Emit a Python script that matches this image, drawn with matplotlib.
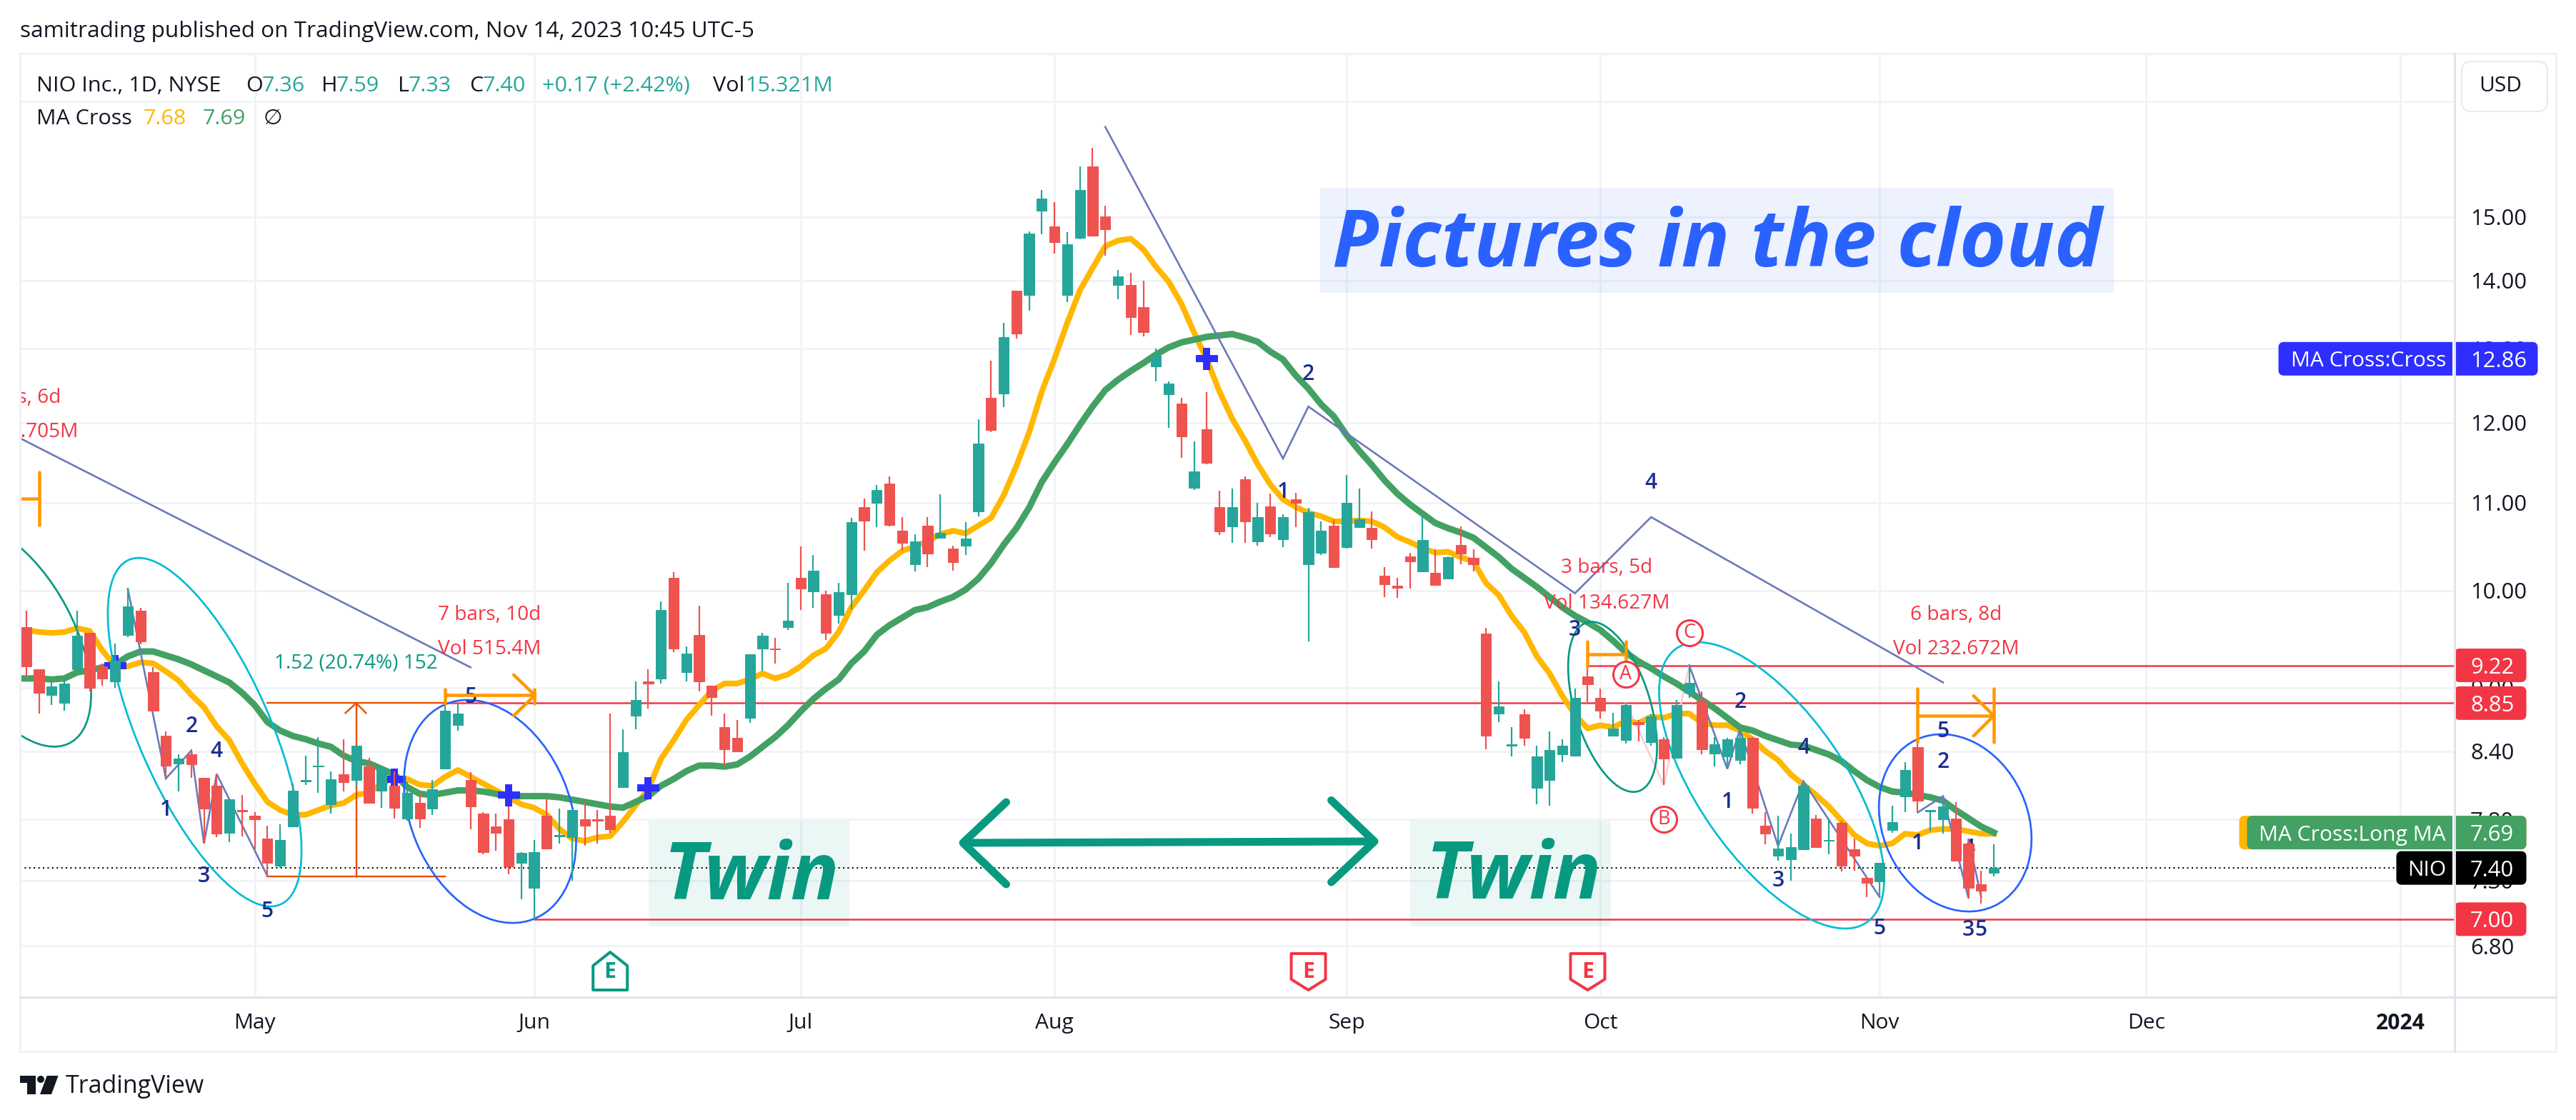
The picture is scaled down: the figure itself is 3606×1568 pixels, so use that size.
"""NIO daily candles with MA Cross and hand drawn wave annotations (TradingView look)."""
import numpy as np
import matplotlib
matplotlib.use("Agg")
import matplotlib.pyplot as plt
from matplotlib.patches import Ellipse, FancyBboxPatch, Polygon, Rectangle

plt.rcParams["font.family"] = ["Open Sans", "DejaVu Sans"]

W, H = 3606, 1568
UP, DOWN = "#26a69a", "#ef5350"
RED, TEAL, BLUE, NAVY = "#f23645", "#089981", "#2962ff", "#1a2d8f"
ORANGE, WAVE, INK = "#ff9800", "#6b78bb", "#131722"
YELLOW, GREEN, CROSS = "#ffb700", "#43a163", "#2e2eff"

# bar numbers count trading days from May 1 2023
first_bar = -18
opens = [9.61, 9.18, 8.93, 8.85, 9.18, 9.55, 9.21, 9.06, 9.53, 9.78,
         9.15, 8.54, 8.29, 8.37, 8.16, 8.09, 7.69, 7.88, 7.83, 7.64,
         7.42, 7.74, 8.13, 8.26, 7.93, 8.19, 8.14, 8.26, 8.05, 8.09,
         7.81, 7.94, 7.89, 8.24, 8.64, 8.14, 7.85, 7.74, 7.80, 7.44,
         7.24, 7.83, 7.66, 7.65, 7.80, 7.80, 7.83, 8.08, 8.73, 9.06,
         9.09, 10.14, 9.15, 9.53, 9.02, 8.62, 8.52, 8.71, 9.39, 9.39,
         9.61, 10.14, 9.99, 9.96, 9.74, 9.96, 10.95, 11.00, 11.23, 10.67,
         10.29, 10.73, 10.59, 10.47, 10.50, 10.90, 12.33, 12.38, 13.85, 13.78,
         15.10, 14.85, 13.78, 14.66, 15.85, 15.01, 13.93, 13.93, 13.60, 12.75,
         12.37, 12.25, 11.18, 11.91, 10.95, 10.72, 11.28, 10.55, 10.96, 10.57,
         11.04, 10.29, 10.42, 10.73, 10.48, 10.71, 10.70, 10.16, 10.05, 10.38,
         10.21, 10.19, 10.13, 10.51, 10.36, 9.54, 8.75, 8.45, 8.74, 8.07,
         8.14, 8.37, 8.36, 9.11, 8.90, 8.54, 8.50, 8.67, 8.48, 8.51,
         8.34, 8.95, 8.87, 8.38, 8.35, 8.32, 8.52, 7.75, 7.50, 7.47,
         7.55, 7.81, 7.62, 7.77, 7.55, 7.32, 7.29, 7.71, 8.00, 8.44,
         7.87, 7.80, 7.81, 7.60, 7.27, 7.36]
highs = [9.78, 9.18, 9.06, 9.06, 9.78, 9.55, 9.24, 9.44, 10.02, 9.81,
         9.20, 8.58, 8.37, 8.40, 8.16, 8.19, 7.97, 8.01, 7.86, 7.75,
         7.76, 8.11, 8.36, 8.53, 8.22, 8.51, 8.45, 8.34, 8.27, 8.22,
         8.12, 8.02, 8.14, 8.85, 8.84, 8.21, 7.86, 7.85, 7.91, 7.53,
         7.63, 7.98, 7.89, 7.89, 7.96, 7.88, 8.75, 8.60, 9.06, 9.18,
         9.88, 10.20, 9.41, 9.84, 9.02, 8.75, 8.69, 9.33, 9.55, 9.50,
         10.08, 10.49, 10.39, 10.00, 10.08, 10.82, 11.05, 11.21, 11.32, 10.83,
         10.63, 10.83, 11.10, 10.50, 10.77, 12.04, 12.83, 13.37, 13.85, 14.77,
         15.45, 15.24, 14.76, 15.85, 16.17, 15.18, 14.16, 14.12, 14.00, 13.00,
         12.55, 12.33, 11.76, 12.40, 11.14, 11.17, 11.32, 11.00, 11.11, 10.86,
         11.12, 10.94, 10.78, 10.80, 11.34, 11.17, 10.90, 10.26, 10.14, 10.42,
         10.85, 10.46, 10.38, 10.72, 10.46, 9.60, 9.06, 8.62, 8.79, 8.45,
         8.58, 8.51, 8.99, 9.22, 8.99, 8.76, 8.85, 8.69, 8.74, 8.53,
         8.88, 9.22, 8.96, 8.53, 8.52, 8.60, 8.53, 7.86, 7.83, 7.68,
         8.13, 7.84, 7.80, 7.79, 7.64, 7.32, 7.44, 7.92, 8.30, 8.50,
         7.88, 8.00, 7.95, 7.64, 7.38, 7.59]
lows = [9.11, 8.75, 8.83, 8.78, 9.18, 8.96, 9.02, 9.00, 9.51, 9.43,
        8.78, 8.16, 8.04, 8.16, 7.60, 7.65, 7.61, 7.66, 7.55, 7.33,
        7.40, 7.74, 8.10, 8.03, 7.85, 8.04, 8.09, 7.94, 7.90, 7.81,
        7.79, 7.73, 7.84, 8.24, 8.59, 7.72, 7.51, 7.54, 7.35, 7.15,
        7.00, 7.56, 7.60, 7.30, 7.58, 7.60, 7.69, 8.07, 8.60, 8.80,
        9.04, 9.35, 9.06, 8.96, 8.73, 8.27, 8.40, 8.66, 9.17, 9.24,
        9.58, 9.79, 9.81, 9.48, 9.65, 9.80, 10.44, 10.71, 10.72, 10.45,
        10.21, 10.26, 10.59, 10.22, 10.39, 10.84, 11.88, 12.20, 13.15, 13.55,
        14.72, 14.42, 13.67, 14.64, 14.69, 14.38, 13.72, 13.20, 13.18, 12.55,
        11.93, 11.55, 11.15, 11.47, 10.62, 10.53, 10.53, 10.50, 10.60, 10.48,
        10.71, 9.46, 10.39, 10.26, 10.47, 10.71, 10.47, 9.93, 9.92, 10.02,
        10.20, 10.06, 10.13, 10.29, 10.21, 8.42, 8.67, 8.35, 8.45, 7.93,
        7.92, 8.30, 8.35, 8.86, 8.70, 8.54, 8.47, 8.49, 8.45, 8.10,
        8.34, 8.90, 8.37, 8.26, 8.24, 8.28, 7.85, 7.59, 7.46, 7.30,
        7.55, 7.57, 7.51, 7.37, 7.38, 7.17, 7.17, 7.69, 7.86, 7.86,
        7.70, 7.68, 7.46, 7.16, 7.12, 7.33]
closes = [9.21, 8.95, 9.01, 9.04, 9.52, 9.00, 9.09, 9.27, 9.83, 9.46,
          8.78, 8.27, 8.33, 8.28, 7.89, 7.68, 7.97, 7.87, 7.80, 7.44,
          7.63, 8.05, 8.14, 8.27, 8.15, 8.12, 8.45, 7.94, 8.24, 7.90,
          8.03, 7.81, 8.06, 8.78, 8.75, 7.91, 7.53, 7.69, 7.41, 7.52,
          7.53, 7.56, 7.67, 7.88, 7.75, 7.79, 7.72, 8.39, 8.88, 9.04,
          9.79, 9.39, 9.34, 9.06, 8.91, 8.42, 8.40, 9.33, 9.52, 9.38,
          9.68, 10.02, 10.22, 9.55, 9.98, 10.77, 10.79, 11.15, 10.74, 10.53,
          10.55, 10.41, 10.65, 10.31, 10.58, 11.73, 11.90, 13.17, 13.22, 14.73,
          15.30, 14.60, 14.56, 15.45, 14.70, 14.80, 14.06, 13.45, 13.24, 12.90,
          12.52, 11.82, 11.38, 11.49, 10.66, 10.95, 10.78, 10.83, 10.64, 10.83,
          11.00, 10.89, 10.67, 10.26, 11.00, 10.80, 10.57, 10.07, 10.03, 10.32,
          10.56, 10.06, 10.37, 10.41, 10.29, 8.54, 8.82, 8.46, 8.52, 8.35,
          8.41, 8.45, 8.90, 9.03, 8.78, 8.61, 8.83, 8.65, 8.72, 8.33,
          8.83, 9.05, 8.42, 8.46, 8.51, 8.52, 7.90, 7.68, 7.56, 7.57,
          8.09, 7.57, 7.63, 7.42, 7.50, 7.28, 7.44, 7.78, 8.23, 7.96,
          7.88, 7.91, 7.46, 7.24, 7.22, 7.40]
# both moving averages start one bar earlier, off the left edge
short_ma = [9.58, 9.58, 9.56, 9.55, 9.56, 9.60, 9.57, 9.37, 9.21, 9.21, 9.25,
            9.24, 9.16, 9.07, 8.93, 8.81, 8.63, 8.50, 8.29, 8.11, 7.95,
            7.88, 7.84, 7.84, 7.88, 7.92, 7.94, 8.01, 8.03, 8.11, 8.16,
            8.15, 8.10, 8.09, 8.17, 8.23, 8.17, 8.11, 8.05, 7.99, 7.93,
            7.90, 7.84, 7.72, 7.64, 7.62, 7.65, 7.66, 7.78, 7.92, 8.06,
            8.33, 8.50, 8.69, 8.83, 8.97, 9.04, 9.04, 9.08, 9.14, 9.09,
            9.13, 9.21, 9.32, 9.39, 9.56, 9.82, 10.00, 10.20, 10.33, 10.44,
            10.49, 10.55, 10.63, 10.67, 10.64, 10.73, 10.82, 11.09, 11.45, 11.87,
            12.41, 12.86, 13.37, 13.85, 14.19, 14.53, 14.62, 14.65, 14.48, 14.21,
            13.98, 13.65, 13.23, 12.85, 12.41, 12.05, 11.77, 11.47, 11.22, 11.04,
            10.95, 10.88, 10.84, 10.78, 10.78, 10.79, 10.78, 10.71, 10.60, 10.54,
            10.47, 10.42, 10.43, 10.37, 10.32, 10.08, 9.95, 9.73, 9.56, 9.31,
            9.14, 8.92, 8.74, 8.61, 8.64, 8.62, 8.68, 8.66, 8.72, 8.71,
            8.75, 8.75, 8.66, 8.64, 8.64, 8.59, 8.51, 8.40, 8.32, 8.19,
            8.10, 8.01, 7.91, 7.79, 7.67, 7.60, 7.58, 7.60, 7.68, 7.67,
            7.71, 7.72, 7.72, 7.70, 7.68, 7.68]
long_ma = [9.09, 9.09, 9.09, 9.08, 9.09, 9.15, 9.17, 9.20, 9.23, 9.31, 9.36,
           9.36, 9.32, 9.28, 9.23, 9.17, 9.11, 9.05, 8.95, 8.83, 8.67,
           8.59, 8.54, 8.51, 8.47, 8.44, 8.36, 8.31, 8.29, 8.24, 8.19,
           8.08, 8.02, 8.01, 8.03, 8.05, 8.05, 8.04, 8.02, 8.00, 8.00,
           8.00, 8.00, 7.99, 7.97, 7.95, 7.93, 7.91, 7.90, 7.95, 8.00,
           8.09, 8.15, 8.22, 8.27, 8.27, 8.26, 8.28, 8.35, 8.44, 8.53,
           8.64, 8.77, 8.89, 8.99, 9.08, 9.24, 9.36, 9.53, 9.63, 9.71,
           9.79, 9.82, 9.88, 9.93, 10.01, 10.13, 10.30, 10.51, 10.70, 10.94,
           11.25, 11.49, 11.72, 11.97, 12.21, 12.43, 12.57, 12.69, 12.80, 12.92,
           13.02, 13.09, 13.13, 13.17, 13.19, 13.21, 13.16, 13.10, 12.96, 12.85,
           12.63, 12.45, 12.24, 12.08, 11.84, 11.64, 11.46, 11.27, 11.11, 10.98,
           10.87, 10.76, 10.70, 10.65, 10.59, 10.48, 10.37, 10.24, 10.14, 10.04,
           9.93, 9.82, 9.73, 9.66, 9.58, 9.47, 9.35, 9.26, 9.19, 9.11,
           9.04, 8.96, 8.88, 8.80, 8.71, 8.62, 8.59, 8.54, 8.50, 8.46,
           8.45, 8.41, 8.37, 8.31, 8.22, 8.14, 8.08, 8.04, 8.03, 8.01,
           7.99, 7.96, 7.88, 7.81, 7.74, 7.69]

month_bars = [0, 22, 43, 63, 86, 106, 128, 149, 169]
month_labels = ["May", "Jun", "Jul", "Aug", "Sep", "Oct", "Nov", "Dec", "2024"]
price_ticks = [17, 15, 14, 13, 12, 11, 10, 9, 8.4, 7.8, 7.3, 6.8]
price_labels = ["", "15.00", "14.00", "13.00", "12.00", "11.00", "10.00",
                "9.00", "8.40", "7.80", "7.30", "6.80"]

# hand drawn waves as (bar, price) turning points
wave_long = [(-19, 11.84), (17, 9.20)]
wave_a = [(-10, 10.02), (-7, 8.155), (-5, 8.405), (-4, 7.60), (-3, 8.195), (1, 7.335)]
wave_b = [(67, 16.54), (81, 11.54), (83, 12.21), (104, 9.97), (110, 10.83), (133, 9.05)]
wave_c = [(113, 9.22), (116, 8.24), (117, 8.60), (120, 7.58), (122, 8.13), (128, 7.17)]
wave_d = [(131, 7.86), (133, 8.00), (135, 7.16), (135, 7.64), (136, 7.17)]
abc_wave = [(108, 8.85), (111, 8.10), (113, 9.22)]
wave_labels = [("1", -7, 7.88), ("2", -5, 8.63), ("3", -4, 7.33), ("4", -3, 8.40), ("5", 1, 7.06),
               ("5", 17, 8.91), ("1", 81, 11.13), ("2", 83, 12.65), ("3", 104, 9.58),
               ("4", 110, 11.24), ("5", 133, 8.58), ("1", 116, 7.95), ("2", 117, 8.86),
               ("3", 120, 7.30), ("4", 122, 8.43), ("5", 128, 6.93), ("1", 131, 7.60),
               ("2", 133, 8.30), ("3", 135, 6.92), ("4", 135, 7.56), ("5", 136, 6.92)]
abc_labels = [("A", 108, 9.13), ("B", 111, 7.80), ("C", 113, 9.55)]
cross_bars = [-11, 11, 20, 31, 75]
cross_prices = [9.22, 8.145, 8.01, 8.07, 12.86]
earnings_bars = [28, 83, 105]
earnings_beat = [True, False, False]
level_lines = [(15, 8.85), (105, 9.22), (22, 7.00)]
range_texts = [("4 bars, 6d", -18.9, 12.33), ("Vol 121.705M", -18.9, 11.88),
               ("7 bars, 10d", 18.5, 9.74), ("Vol 515.4M", 18.5, 9.38),
               ("3 bars, 5d", 106.5, 10.25), ("Vol 134.627M", 106.5, 9.86),
               ("6 bars, 8d", 134, 9.74), ("Vol 232.672M", 134, 9.38)]


def size(px):
    return px * 72 / 100


fig = plt.figure(figsize=(W / 100, H / 100), dpi=100, facecolor="white")
L, R, T, B = 27.5, 3436, 75, 1396
ax = fig.add_axes([L / W, 1 - B / H, (R - L) / W, (B - T) / H])
pix = fig.add_axes([0, 0, 1, 1], zorder=5)
pix.set_xlim(0, W); pix.set_ylim(H, 0); pix.axis("off"); pix.patch.set_alpha(0)

ax.set_yscale("log")
ax.set_xlim(-18.52, 173.29)
ax.set_ylim(6.432, 17.91)
for s in ax.spines.values():
    s.set_visible(False)
ax.set_xticks(month_bars, month_labels, fontsize=size(30), color=INK)
ax.get_xticklabels()[-1].set_fontweight("bold")
ax.yaxis.tick_right()
ax.set_yticks(price_ticks, price_labels, fontsize=size(31), color=INK)
ax.minorticks_off()
ax.tick_params(axis="x", length=0, pad=size(22))
ax.tick_params(axis="y", length=0, pad=size(22))
ax.grid(True, color="#f2f3f6", lw=size(3), zorder=0)
ax.set_axisbelow(True)


def to_px(bar, price):
    x, y = ax.transData.transform((bar, price))
    return x, H - y


def poly(points, **kw):
    xs, ys = zip(*points)
    ax.plot(xs, ys, **kw)


# annotation boxes under everything else
for x0, y0, x1, y1, col in [(908, 1149, 1189, 1297, TEAL), (1974, 1149, 2255, 1297, TEAL),
                            (1848, 263, 2959, 410, BLUE)]:
    ax.add_patch(Rectangle((x0, y0), x1 - x0, y1 - y0, transform=pix.transData,
                           fc=col, ec="none", alpha=0.08, zorder=1))

ma_x = np.arange(first_bar - 1, first_bar - 1 + len(short_ma))
ax.plot(ma_x, short_ma, color=YELLOW, lw=size(8), solid_joinstyle="round", zorder=3)
ax.plot(ma_x, long_ma, color=GREEN, lw=size(9), solid_joinstyle="round", zorder=3.1)
ax.scatter(cross_bars, cross_prices, marker="P", s=size(31) ** 2, color=CROSS,
           linewidths=0, zorder=3.2)

# price levels and the last price
for start, level in level_lines:
    ax.plot([start, 174], [level, level], color=RED, lw=size(2.5), zorder=2.5)
ax.axhline(7.40, color="black", lw=size(2), ls=(0, (1, 2.2)), zorder=2.5)

# waves, ellipses, numbers go behind the candles
wave_style = dict(color=WAVE, lw=size(2.6), zorder=3.4, solid_joinstyle="miter")
for w in (wave_long, wave_a, wave_b, wave_c, wave_d):
    poly(w, **wave_style)
poly(abc_wave, color="#f9cdd3", lw=size(2.6), zorder=2.8)
for cx, cy, wd, ht, ang, col in [(18, 890, 340, 170, 62, TEAL),
                                 (286.5, 1025, 527, 184, 66.2, "#00bcd4"),
                                 (686, 1136, 325, 223.5, 67.5, BLUE),
                                 (2257.4, 989.6, 247, 106, 73, TEAL),
                                 (2480, 1099.5, 467, 204.6, 55.2, "#00bcd4"),
                                 (2737, 1152, 257, 203, 65, BLUE)]:
    ax.add_patch(Ellipse((cx, cy), wd, ht, angle=ang, transform=pix.transData, fc="none",
                         ec=col, lw=size(2.7), zorder=3.5))
for txt, bar, price in wave_labels:
    ax.text(bar, price, txt, color=NAVY, fontsize=size(30), fontweight="semibold",
            ha="center", va="center", zorder=3.6)

# candles
bars = first_bar + np.arange(len(opens))
o, h, l, c = map(np.array, (opens, highs, lows, closes))
colors = np.where(c >= o, UP, DOWN)
ax.vlines(bars, l, h, colors=colors, lw=size(2.2), zorder=4)
ax.bar(bars, np.abs(c - o), bottom=np.minimum(o, c), width=0.8, color=colors,
       edgecolor=colors, linewidth=size(1), zorder=4.1)

# orange date ranges
rng = dict(color=ORANGE, lw=size(4.5), solid_capstyle="round", zorder=5)
poly([(-19, 11.05), (-17, 11.05)], **rng)
poly([(-17, 11.37), (-17, 10.74)], **rng)
poly([(15, 8.985), (15, 8.845)], **rng)
poly([(15, 8.925), (22, 8.925)], **rng)
poly([(22, 8.985), (22, 8.845)], **rng)
poly([(20.4, 9.125), (22.07, 8.925), (20.4, 8.73)], **rng)
poly([(105, 9.46), (105, 9.21)], **rng)
poly([(108, 9.46), (108, 9.21)], **rng)
poly([(105, 9.33), (108, 9.33)], **rng)
poly([(131, 8.99), (131, 8.48)], **rng)
poly([(137, 8.99), (137, 8.48)], **rng)
poly([(131, 8.73), (137, 8.73)], **rng)
poly([(135.4, 8.92), (137, 8.73), (135.4, 8.54)], **rng)

# price range measure
meas = dict(color="#e65100", lw=size(2.4), zorder=3.3)
poly([(1, 8.85), (15, 8.85)], **meas)
poly([(1, 7.33), (15, 7.33)], **meas)
poly([(8, 7.33), (8, 8.85)], **meas)
poly([(7.14, 8.755), (8, 8.85), (8.76, 8.755)], **meas)
ax.text(8, 9.24, "1.52 (20.74%) 152", color=TEAL, fontsize=size(28), ha="center",
        va="center", zorder=6)
for txt, bar, price in range_texts:
    ax.text(bar, price, txt, color=RED, fontsize=size(28), ha="center", va="center",
            clip_on=True, zorder=6)

# A B C circles
for txt, bar, price in abc_labels:
    ax.scatter([bar], [price], s=size(36) ** 2, facecolors="white", edgecolors=RED,
               linewidths=size(3), zorder=6, alpha=1)
    ax.text(bar, price, txt, color=RED, fontsize=size(27), ha="center", va="center", zorder=6.1)

# big notes
note = dict(fontstyle="italic", fontweight="bold", ha="center", va="baseline", zorder=6)
ax.text(1052, 1259, "Twin", transform=pix.transData, color=TEAL, fontsize=size(112), **note)
ax.text(2119, 1258, "Twin", transform=pix.transData, color=TEAL, fontsize=size(112), **note)
ax.text(2404, 373, "Pictures in the cloud", transform=pix.transData, color=BLUE,
        fontsize=size(112), **note)

# double arrow
arrow = dict(color=TEAL, lw=size(11), solid_capstyle="round", solid_joinstyle="round", zorder=6)
pix.plot([1350, 1922], [1180, 1178], **arrow)
pix.plot([1408.5, 1348, 1408.5], [1123, 1180, 1238], **arrow)
pix.plot([1863.6, 1924, 1863.6], [1120.4, 1178, 1235], **arrow)

# earnings tags
for bar, beat in zip(earnings_bars, earnings_beat):
    x, _ = to_px(bar, 10)
    if beat:
        pts = [(x, 1333), (x + 24, 1352), (x + 24, 1386), (x - 24, 1386), (x - 24, 1352)]
        col = TEAL
    else:
        pts = [(x - 24, 1335), (x + 24, 1335), (x + 24, 1371), (x, 1386), (x - 24, 1371)]
        col = RED
    pix.add_patch(Polygon(pts, closed=True, fc="white", ec=col, lw=size(4), joinstyle="round"))
    pix.text(x, 1361, "E", color=col, fontsize=size(30), fontweight="bold", ha="center", va="center")

# frame
pix.add_patch(Rectangle((L, T), 3578 - L, 1472 - T, fc="none", ec="#f0f1f5", lw=size(3)))
pix.plot([R, R], [T, 1472], color="#e0e3eb", lw=size(3))
pix.plot([L, 3578], [B, B], color="#e0e3eb", lw=size(3))


def tag(x0, x1, price, col, name, value, value_x):
    _, y = to_px(0, price)
    pix.add_patch(FancyBboxPatch((x0 + 4, y - 20), x1 - x0 - 8, 40, boxstyle="round,pad=0,rounding_size=4",
                                 mutation_aspect=1, fc=col, ec=col, lw=size(7)))
    if name:
        pix.text(R - 12, y, name, color="white", fontsize=size(30), ha="right", va="center_baseline")
        pix.plot([R - 2, R - 2], [y - 24, y + 24], color="white", lw=size(2))
    pix.text(value_x, y, value, color="white", fontsize=size(31), ha="left", va="center_baseline")


tag(3134, 3537, 7.69, YELLOW, "", "", 3458)
tag(3145, 3537, 7.69, GREEN, "MA Cross:Long MA", "7.69", 3458)
tag(3354, 3537, 7.40, "black", "NIO", "7.40", 3458)
tag(3189, 3553, 12.86, CROSS, "MA Cross:Cross", "12.86", 3458)
tag(3435, 3537, 9.22, RED, "", "9.22", 3458)
tag(3435, 3537, 8.85, RED, "", "8.85", 3458)
tag(3435, 3537, 7.00, RED, "", "7.00", 3458)

# USD button
pix.add_patch(FancyBboxPatch((3446, 86), 120, 70, boxstyle="round,pad=0,rounding_size=14",
                             fc="white", ec="#e8e9ef", lw=size(2)))
pix.text(3500, 120, "USD", color=INK, fontsize=size(30), ha="center", va="center")

# header and legend
pix.text(28, 44, "samitrading published on TradingView.com, Nov 14, 2023 10:45 UTC-5",
         color=INK, fontsize=size(31.5), ha="left", va="center")
legend_row = [("NIO Inc., 1D, NYSE", 51, INK), ("O", 344, INK), ("7.36", 366.5, UP), ("H", 450, INK),
              ("7.59", 471, UP), ("L", 557, INK), ("7.33", 572, UP), ("C", 657, INK),
              ("7.40", 676, UP), ("+0.17 (+2.42%)", 759, UP), ("Vol", 997.5, INK), ("15.321M", 1043, UP)]
for txt, x, col in legend_row:
    pix.text(x, 120, txt, color=col, fontsize=size(30.5), ha="left", va="center")
for txt, x, col in [("MA Cross", 51, INK), ("7.68", 200.7, YELLOW), ("7.69", 284, GREEN), ("∅", 369, INK)]:
    pix.text(x, 166, txt, color=col, fontsize=size(30.5), ha="left", va="center")

# TradingView mark
pix.add_patch(Polygon([(27.5, 1506), (49.7, 1506), (49.7, 1532), (38.3, 1532), (38.3, 1516), (27.5, 1516)],
                      fc=INK, ec="none"))
pix.add_patch(Ellipse((57, 1511), 10, 10, fc=INK, ec="none"))
pix.add_patch(Polygon([(65.7, 1506), (81.6, 1506), (72, 1532), (56, 1532)], fc=INK, ec="none"))
pix.text(92, 1521, "TradingView", color=INK, fontsize=size(34), ha="left", va="center")

fig.savefig("out.png", dpi=100, facecolor="white")
plt.close(fig)
